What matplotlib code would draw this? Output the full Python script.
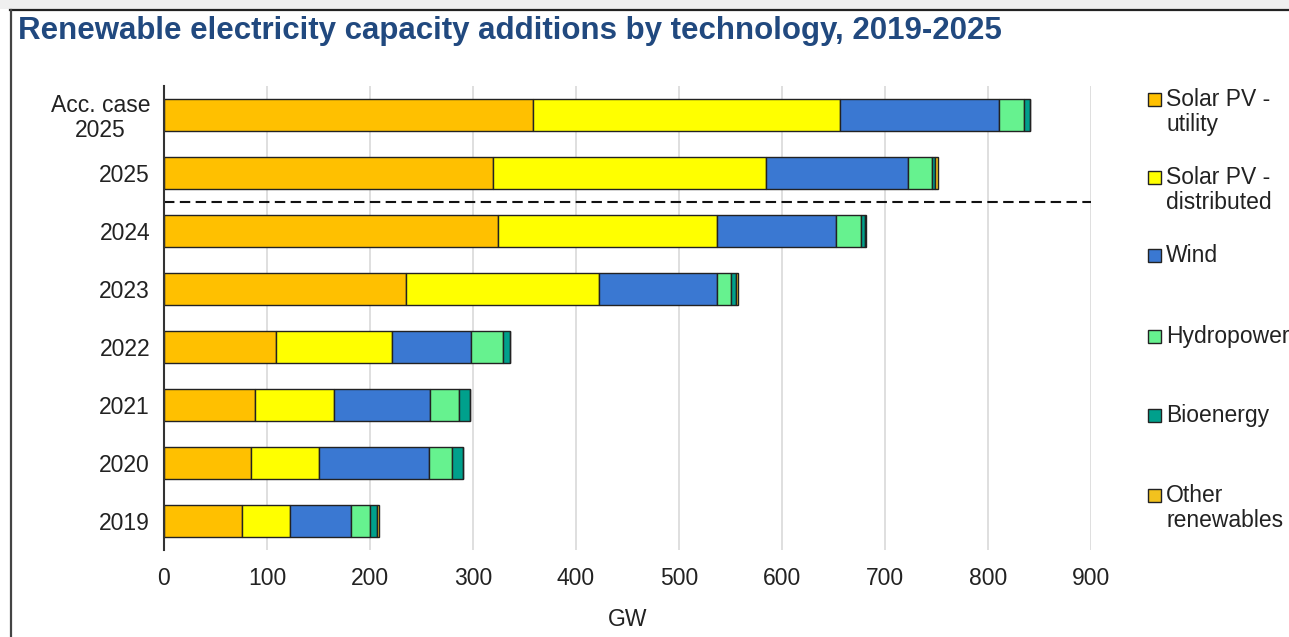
import matplotlib
matplotlib.use("Agg")
import matplotlib.pyplot as plt
from matplotlib.patches import Rectangle
from matplotlib.lines import Line2D
import numpy as np

plt.rcParams['font.family'] = ['Liberation Sans', 'DejaVu Sans']

categories = ["Acc. case\n2025", "2025", "2024", "2023", "2022", "2021", "2020", "2019"]
solar_utility     = [358, 319, 324, 235, 109, 88, 84, 76]
solar_distributed = [298, 265, 213, 187, 112, 77, 66, 46]
wind              = [155, 138, 115, 115, 77, 93, 107, 60]
hydropower        = [24, 24, 25, 13, 31, 28, 23, 18]
bioenergy         = [6, 3, 4, 5, 7, 11, 10, 7]
other_renewables  = [0, 2, 1, 2, 0, 0, 0, 2]

series_labels = ["Solar PV -\nutility", "Solar PV -\ndistributed", "Wind",
                 "Hydropower", "Bioenergy", "Other\nrenewables"]
series_values = [solar_utility, solar_distributed, wind, hydropower, bioenergy, other_renewables]
colors = ["#FFC000", "#FFFF00", "#3A78D2", "#66F28F", "#00A08C", "#F2C21E"]
x_ticks = [0, 100, 200, 300, 400, 500, 600, 700, 800, 900]

W, H = 1289, 637
FS = 16.5
fig = plt.figure(figsize=(W / 100, H / 100), dpi=100)

# light band above the panel frame and the frame itself
fig.patches.append(Rectangle((0, 1 - 9 / H), 1, 9 / H, transform=fig.transFigure,
                             facecolor="#efefef", edgecolor="none", zorder=0))
fig.add_artist(Line2D([10 / W, 1], [1 - 10 / H, 1 - 10 / H], transform=fig.transFigure,
                      color="#222222", lw=1.6))
fig.add_artist(Line2D([11 / W, 11 / W], [0, 1 - 10 / H], transform=fig.transFigure,
                      color="#444444", lw=1.6))

fig.text(18 / W, 1 - 31 / H, "Renewable electricity capacity additions by technology, 2019-2025",
         fontsize=22.5, fontweight="bold", color="#21497F", va="center", ha="left")

ax = fig.add_axes([164 / W, 1 - 550 / H, (1091 - 164) / W, (550 - 86) / H])
y = np.arange(len(categories))
left = np.zeros(len(categories))
for vals, col, lab in zip(series_values, colors, series_labels):
    vals = np.array(vals, dtype=float)
    ax.barh(y, vals, left=left, height=0.56, color=col, edgecolor="#222222",
            linewidth=1.0, label=lab, zorder=3)
    left += vals

ax.set_ylim(len(categories) - 0.5, -0.5)
ax.set_xlim(0, 900)
ax.set_yticks(y)
ax.set_yticklabels(categories, fontsize=FS, color="#222222", linespacing=1.1)
ax.set_xticks(x_ticks)
ax.set_xticklabels([str(t) for t in x_ticks], fontsize=FS, color="#222222")
ax.tick_params(axis="x", length=0, pad=12)
ax.tick_params(axis="y", length=0, pad=10)
for lbl in ax.get_yticklabels():
    lbl.set_multialignment("center")
ax.set_xlabel("GW", fontsize=FS, color="#222222", labelpad=13)

ax.grid(axis="x", color="#d9d9d9", linewidth=1.2, zorder=0)
ax.set_axisbelow(True)
for s in ["top", "right", "bottom"]:
    ax.spines[s].set_visible(False)
ax.spines["left"].set_color("#333333")
ax.spines["left"].set_linewidth(1.5)
ax.spines["left"].set_zorder(4)

# separator between the forecast cases and historical years
ax.plot([0, 900], [1.5, 1.5], color="#111111", lw=1.5, dashes=(5, 2.6), zorder=4,
        clip_on=False)

# legend drawn as markers and text on the figure
legend_marker_y = [100, 178, 256, 337, 416, 496]
for lab, col, my in zip(series_labels, colors, legend_marker_y):
    fig.patches.append(Rectangle((1148 / W, 1 - (my + 6) / H), 13 / W, 13 / H,
                                 transform=fig.transFigure, facecolor=col,
                                 edgecolor="#222222", linewidth=1.0))
    fig.text(1166 / W, 1 - (my - 12) / H, lab, fontsize=FS, color="#222222",
             va="top", ha="left", linespacing=1.12)

fig.savefig("out.png", dpi=100)
